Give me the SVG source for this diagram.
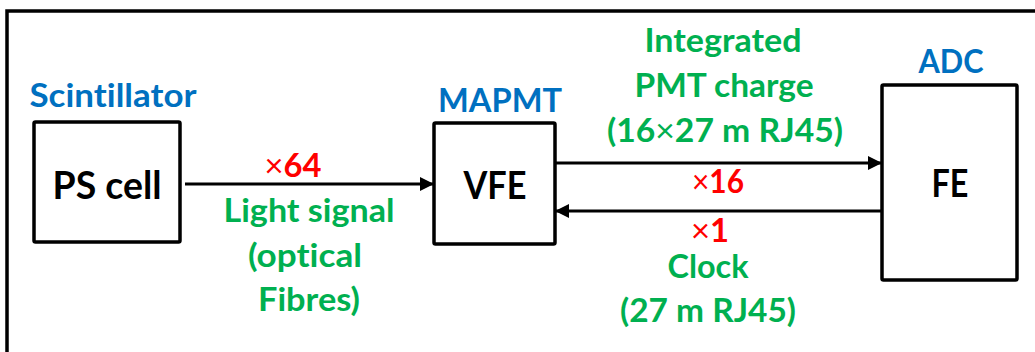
<svg xmlns="http://www.w3.org/2000/svg" width="1035" height="352" viewBox="0 0 1035 352">
<style>
text{font-family:Lato,"Open Sans","Liberation Sans",sans-serif;font-weight:700;text-anchor:middle;font-variant-ligatures:none;font-feature-settings:"liga" 0}
.box{fill:#fff;stroke:#000;stroke-width:3.5}
.node{font-size:39px;fill:#000}
.blue{font-size:32px;fill:#0070C0}
.green{font-size:32px;fill:#00B050}
.red{font-size:32px;fill:#FF0000}
.x{font-weight:400}
.conn{stroke:#000;stroke-width:3;fill:none;marker-end:url(#ah)}
</style>
<defs>
<marker id="ah" markerUnits="userSpaceOnUse" markerWidth="16" markerHeight="16" refX="14" refY="8" orient="auto">
<path d="M0,1 L14,8 L0,15 z" fill="#000"/>
</marker>
</defs>
<path d="M7,360 V11 H1040" fill="none" stroke="#000" stroke-width="3.5"/>
<g id="ps-cell">
<rect class="box" x="34" y="122" width="146" height="120" rx="1.5"/>
<text class="node" x="107" y="199" textLength="109" lengthAdjust="spacingAndGlyphs">PS cell</text>
<text class="blue" x="113" y="107" textLength="167" lengthAdjust="spacingAndGlyphs">Scintillator</text>
</g>
<g id="vfe">
<rect class="box" x="434" y="123" width="121" height="121" rx="1.5"/>
<text class="node" x="495" y="199" textLength="63" lengthAdjust="spacingAndGlyphs">VFE</text>
<text class="blue" x="500" y="112" textLength="124" lengthAdjust="spacingAndGlyphs">MAPMT</text>
</g>
<g id="fe">
<rect class="box" x="882" y="85" width="135" height="195" rx="1.5"/>
<text class="node" x="950" y="197" textLength="37" lengthAdjust="spacingAndGlyphs">FE</text>
<text class="blue" x="951" y="73" textLength="65" lengthAdjust="spacingAndGlyphs">ADC</text>
</g>
<g id="connectors">
<line class="conn" x1="185" y1="184" x2="434" y2="184"/>
<line class="conn" x1="555" y1="163" x2="882" y2="163"/>
<line class="conn" x1="881" y1="211" x2="555" y2="211"/>
</g>
<g id="labels">
<text class="red" x="293" y="177" textLength="57" lengthAdjust="spacingAndGlyphs"><tspan class="x">×</tspan>64</text>
<text class="green" x="309" y="222" textLength="171" lengthAdjust="spacingAndGlyphs">Light signal</text>
<text class="green" x="305" y="267" textLength="114" lengthAdjust="spacingAndGlyphs">(optical</text>
<text class="green" x="309" y="311" textLength="102" lengthAdjust="spacingAndGlyphs">Fibres)</text>
<text class="green" x="723" y="52" textLength="157" lengthAdjust="spacingAndGlyphs">Integrated</text>
<text class="green" x="724" y="97" textLength="179" lengthAdjust="spacingAndGlyphs">PMT charge</text>
<text class="green" x="725" y="142" textLength="236" lengthAdjust="spacingAndGlyphs">(16<tspan class="x">×</tspan>27 m RJ45)</text>
<text class="red" x="718" y="193" textLength="52" lengthAdjust="spacingAndGlyphs"><tspan class="x">×</tspan>16</text>
<text class="red" x="710" y="242" textLength="38" lengthAdjust="spacingAndGlyphs"><tspan class="x">×</tspan>1</text>
<text class="green" x="708" y="278" textLength="81" lengthAdjust="spacingAndGlyphs">Clock</text>
<text class="green" x="708" y="322" textLength="176" lengthAdjust="spacingAndGlyphs">(27 m RJ45)</text>
</g>
</svg>
